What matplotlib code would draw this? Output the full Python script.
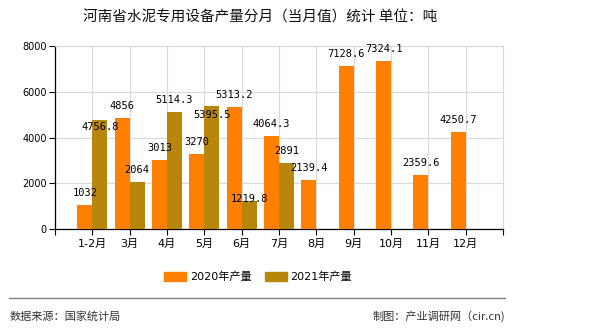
import numpy as np
import matplotlib
matplotlib.use('Agg')
import matplotlib.pyplot as plt
from matplotlib.patches import Patch
from matplotlib.lines import Line2D

plt.rcParams['font.family'] = ['DejaVu Sans', 'Noto Sans CJK SC']

# --------------------------------------------------
# data
# --------------------------------------------------
months = ['1-2月', '3月', '4月', '5月', '6月', '7月', '8月', '9月', '10月', '11月', '12月']
prod_2020 = [1032, 4856, 3013, 3270, 5313.2, 4064.3, 2139.4, 7128.6, 7324.1, 2359.6, 4250.7]
prod_2021 = [4756.8, 2064, 5114.3, 5395.5, 1219.8, 2891]
labels_2020 = ['1032', '4856', '3013', '3270', '5313.2', '4064.3', '2139.4', '7128.6', '7324.1', '2359.6', '4250.7']
labels_2021 = ['4756.8', '2064', '5114.3', '5395.5', '1219.8', '2891']

c2020 = '#ff8000'
c2021 = '#b8860b'

# label nudges (pixels) where the source moved labels to avoid overlap
nudge_2021 = {0: -19, 3: -21, 4: -10}

# --------------------------------------------------
# plot
# --------------------------------------------------
fig = plt.figure(figsize=(5.9, 3.3), dpi=100)
ax = fig.add_axes([55/590, 1-229/330, 448/590, 183/330])

x = np.arange(1, len(months) + 1)
w = 0.4
b1 = ax.bar(x[:len(prod_2020)] - w/2, prod_2020, width=w, color=c2020, zorder=3)
b2 = ax.bar(x[:len(prod_2021)] + w/2, prod_2021, width=w, color=c2021, zorder=3)

for i, (xi, v) in enumerate(zip(x, prod_2020)):
    ax.annotate(labels_2020[i], (xi - w/2, v), xytext=(0, 12), textcoords='offset pixels',
                ha='center', va='center', fontsize=7.5, family='DejaVu Sans Mono', zorder=5)
for i, (xi, v) in enumerate(zip(x, prod_2021)):
    ax.annotate(labels_2021[i], (xi + w/2, v), xytext=(0, 12 + nudge_2021.get(i, 0)),
                textcoords='offset pixels', ha='center', va='center', fontsize=7.5,
                family='DejaVu Sans Mono', zorder=5)

ax.set_xlim(0, 12)
ax.set_ylim(0, 8000)
ax.set_xticks(np.arange(0, 13))
ax.set_xticklabels([''] + months + [''], fontsize=8)
ax.set_yticks(np.arange(0, 8001, 2000))
ax.tick_params(axis='y', labelsize=7, length=4, width=0.8, pad=2)
ax.tick_params(axis='x', length=4, width=0.8, pad=3)
ax.grid(color='#d9d9d9', linewidth=0.8, zorder=0)
for s in ['top', 'right']:
    ax.spines[s].set_color('#d9d9d9')
for s in ['left', 'bottom']:
    ax.spines[s].set_color('black')
    ax.spines[s].set_linewidth(0.9)

fig.text(260/590, 1-18/330, '河南省水泥专用设备产量分月（当月值）统计 单位：吨', ha='center', va='center',
         fontsize=10.5, family='Noto Sans CJK SC', color='#111111')

handles = [Patch(color=c2020, label='2020年产量'), Patch(color=c2021, label='2021年产量')]
fig.legend(handles=handles, loc='center', bbox_to_anchor=(258/590, 1-277/330), ncol=2,
           frameon=False, fontsize=8, handlelength=2.0, handleheight=0.8, columnspacing=1.2,
           handletextpad=0.3)

fig.add_artist(Line2D([9/590, 505/590], [1-298/330, 1-298/330], color='#808080', linewidth=1.0))
fig.text(10/590, 1-316/330, '数据来源：国家统计局', ha='left', va='center', fontsize=8,
         family='Noto Sans CJK SC', color='#333333')
fig.text(505/590, 1-316/330, '制图：产业调研网（cir.cn)', ha='right', va='center', fontsize=8,
         family=['Noto Sans CJK SC', 'DejaVu Sans'], color='#333333')

plt.savefig('out.png', dpi=100)
